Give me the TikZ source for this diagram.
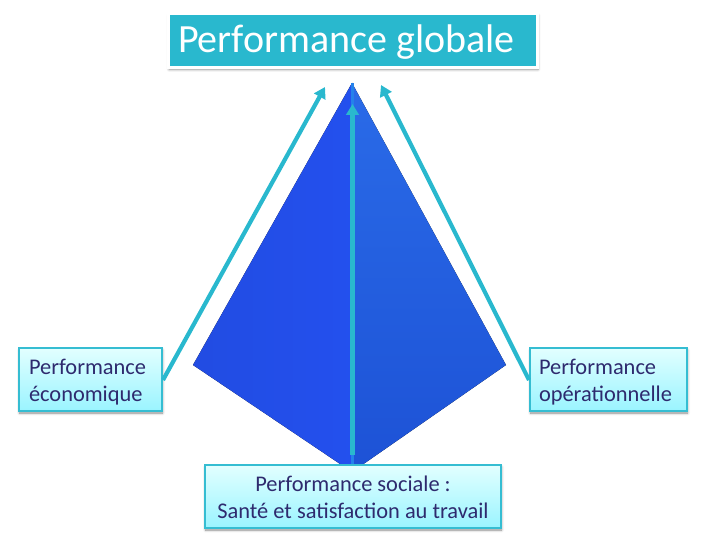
\documentclass[tikz,border=0pt]{standalone}
\usepackage{fontspec}
\setmainfont{Carlito}
\usetikzlibrary{shadows.blur,arrows.meta}
\definecolor{teal1}{HTML}{29B8CE}
\definecolor{ink}{HTML}{2E2A6E}
\definecolor{boxtop}{HTML}{E2FFFF}
\definecolor{boxbot}{HTML}{9AF4FF}
\definecolor{boxline}{HTML}{35BDD2}
\definecolor{faceL}{HTML}{2350EE}
\definecolor{faceLb}{HTML}{224CE2}
\definecolor{faceR}{HTML}{2A6BE8}
\definecolor{faceRb}{HTML}{1D52D6}
\tikzset{
  x=1pt,y=-1pt,
  softshadow/.style={blur shadow={shadow xshift=0.5pt,shadow yshift=-2pt,shadow blur radius=2.5pt,shadow blur steps=6,shadow opacity=45}},
  labelbox/.style={draw=boxline,line width=1.2pt,top color=boxtop,bottom color=boxbot,outer sep=0pt,
    text=ink,font=\fontsize{22.4}{27}\selectfont,inner sep=0pt,minimum height=63pt,softshadow},
  titlebox/.style={fill=teal1,draw=white,line width=3pt,text=white,outer sep=0pt,
    font=\fontsize{40}{44}\selectfont,inner sep=0pt,minimum width=369pt,minimum height=54pt,softshadow},
  flow/.style={draw=teal1,line width=4.2pt,-{Triangle[length=11pt,width=12.5pt]}}
}
\newcommand{\lowerA}{\rule{0pt}{21pt}}
\newcommand{\lowerB}{\rule{0pt}{30pt}}
\newcommand{\lowerC}{\rule{0pt}{17pt}}
\begin{document}
\begin{tikzpicture}
\useasboundingbox (0,0) rectangle (706,545);
% pyramid faces
\coordinate (apex) at (352,83);
\coordinate (lft) at (193,365);
\coordinate (rgt) at (506,365);
\coordinate (bot) at (352,472);
\fill[left color=faceLb,right color=faceL] (apex) -- (lft) -- (bot) -- cycle;
\fill[top color=faceR,bottom color=faceRb] (apex) -- (rgt) -- (bot) -- cycle;
\draw[line width=3pt,color=faceR!85!cyan] (apex) -- (bot);
% boxes
\node[titlebox,anchor=north west,text width=369pt,align=flush left] (title) at (168.5,13.5) {\lowerB\hspace{9.5pt}Performance globale};
\node[labelbox,anchor=north west,minimum width=143pt,text width=143pt,align=flush left] (eco) at (19,348) {\lowerA\hspace{10pt}Performance\\\hspace{10pt}économique};
\node[labelbox,anchor=north west,minimum width=157pt,text width=157pt,align=flush left] (ope) at (530,348) {\lowerA\hspace{9pt}Performance\\\hspace{9pt}opérationnelle};
\node[labelbox,anchor=north west,minimum width=296pt,text width=296pt,align=flush center] (soc) at (205,465) {\lowerC Performance sociale :\\Santé et satisfaction au travail};
% arrow ends
\coordinate (ecoEnd) at (325,87);
\coordinate (opeEnd) at (381,85);
\coordinate (socEnd) at (352.5,104);
\coordinate (ecoStart) at (163,380);
\coordinate (opeStart) at (529,380);
\coordinate (socStart) at (352.5,455);
\draw[flow] (ecoStart) -- (ecoEnd);
\draw[flow] (opeStart) -- (opeEnd);
\draw[flow] (socStart) -- (socEnd);
\end{tikzpicture}
\end{document}
